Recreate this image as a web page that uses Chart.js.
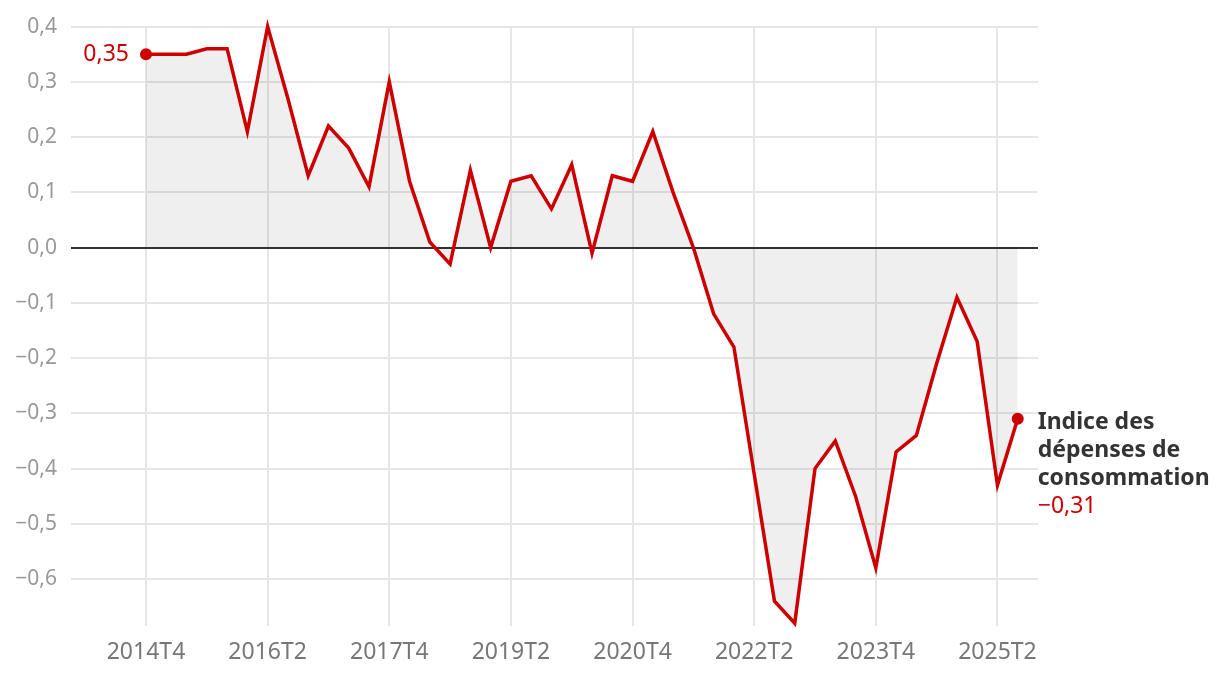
<!DOCTYPE html>
<html>
<head>
<meta charset="utf-8">
<script src="https://cdn.jsdelivr.net/npm/chart.js@4"></script>
<style>
  html, body { margin: 0; padding: 0; background: #fff; }
  #wrap { width: 1220px; height: 676px; }
</style>
</head>
<body>
<div id="wrap"><canvas id="chart" width="1220" height="676"></canvas></div>
<script>
// quarters 2014T4 .. 2025T4 (last one has no value, it only pads the axis)
const quarters = [];
for (let y = 2014; y <= 2025; y++) {
    for (let q = 1; q <= 4; q++) {
        if (y === 2014 && q < 4) continue;
        quarters.push(y + 'T' + q);
    }
}

const indexValues = [
    0.35, 0.35, 0.35, 0.36, 0.36, 0.21, 0.40, 0.27, 0.13, 0.22,
    0.18, 0.11, 0.30, 0.12, 0.01, -0.03, 0.14, 0.00, 0.12, 0.13,
    0.07, 0.15, -0.01, 0.13, 0.12, 0.21, 0.10, 0.00, -0.12, -0.18,
    -0.41, -0.64, -0.68, -0.40, -0.35, -0.45, -0.58, -0.37, -0.34, -0.21,
    -0.09, -0.17, -0.43, -0.31
];

const yTicks = [0.4, 0.3, 0.2, 0.1, 0, -0.1, -0.2, -0.3, -0.4, -0.5, -0.6];
const seriesLabel = ['Indice des', 'dépenses de', 'consommation'];

const RED = '#cc0000';
const FONT = '"Noto Sans", "Open Sans", sans-serif';

function fmt(v, digits) {
    const s = Math.abs(v).toFixed(digits).replace('.', ',');
    return (v < -1e-9 ? '\u2212' : '') + s;
}

// end labels: first value on the left, series name + last value on the right
const endLabels = {
    id: 'endLabels',
    afterDatasetsDraw(chart) {
        const ctx = chart.ctx;
        const x = chart.scales.x, y = chart.scales.y;
        const last = indexValues.length - 1;
        ctx.save();
        ctx.textBaseline = 'middle';

        ctx.font = '23px ' + FONT;
        ctx.fillStyle = RED;
        ctx.textAlign = 'right';
        ctx.fillText(fmt(indexValues[0], 2), x.getPixelForValue(0) - 17, y.getPixelForValue(indexValues[0]));

        const lx = x.getPixelForValue(last) + 20;
        let ly = y.getPixelForValue(indexValues[last]) + 4;
        ctx.textAlign = 'left';
        ctx.font = 'bold 23px ' + FONT;
        ctx.fillStyle = '#333';
        seriesLabel.forEach(t => { ctx.fillText(t, lx, ly); ly += 28; });
        ctx.font = '23px ' + FONT;
        ctx.fillStyle = RED;
        ctx.fillText(fmt(indexValues[last], 2), lx, ly);
        ctx.restore();
    }
};

new Chart(document.getElementById('chart'), {
    type: 'line',
    data: {
        labels: quarters,
        datasets: [{
            data: indexValues,
            borderColor: RED,
            borderWidth: 3.5,
            tension: 0,
            fill: { value: 0 },
            backgroundColor: 'rgba(0,0,0,0.062)',
            pointRadius: c => (c.dataIndex === 0 || c.dataIndex === indexValues.length - 1) ? 6 : 0,
            pointBackgroundColor: RED,
            pointBorderWidth: 0,
            pointHoverRadius: 0,
            clip: false
        }]
    },
    options: {
        responsive: false,
        animation: false,
        events: [],
        layout: { padding: { top: 26, right: 182, left: 0, bottom: 0 } },
        plugins: { legend: { display: false }, tooltip: { enabled: false } },
        scales: {
            x: {
                type: 'category',
                offset: false,
                afterFit: s => { s.height = 50; },
                border: { display: false },
                grid: {
                    drawTicks: false,
                    lineWidth: 2,
                    color: c => (c.index % 6 === 0 ? '#e6e6e6' : 'rgba(0,0,0,0)')
                },
                ticks: {
                    autoSkip: false,
                    maxRotation: 0,
                    padding: 13,
                    color: '#777',
                    font: { family: FONT, size: 23 },
                    callback: (v, i) => (i % 6 === 0 ? quarters[i] : '')
                }
            },
            y: {
                min: -0.685,
                max: 0.4,
                afterFit: s => { s.width = 146; },
                afterBuildTicks: s => { s.ticks = yTicks.map(v => ({ value: v })); },
                border: { display: false },
                grid: {
                    tickLength: 75,
                    lineWidth: 2,
                    color: c => (c.tick && c.tick.value === 0 ? '#333' : '#e6e6e6'),
                    tickColor: c => (c.tick && c.tick.value === 0 ? '#333' : '#e6e6e6')
                },
                ticks: {
                    padding: 14,
                    color: '#999',
                    font: { family: FONT, size: 21 },
                    callback: v => fmt(v, 1)
                }
            }
        }
    },
    plugins: [endLabels]
});
</script>
</body>
</html>
